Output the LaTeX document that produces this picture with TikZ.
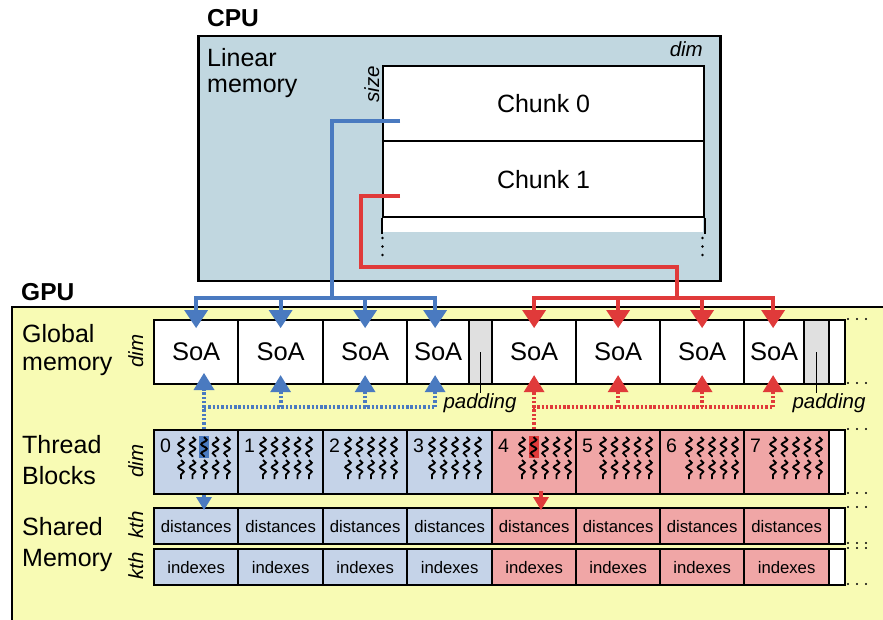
\documentclass[tikz,border=0pt]{standalone}
\usepackage{fontspec}
\setmainfont{Liberation Sans}
\usetikzlibrary{arrows.meta,decorations.pathmorphing}
\definecolor{cpufill}{RGB}{193,215,224}
\definecolor{gpufill}{RGB}{248,251,180}
\definecolor{bfill}{RGB}{197,211,232}
\definecolor{rfill}{RGB}{240,166,166}
\definecolor{padfill}{RGB}{224,224,224}
\definecolor{bline}{RGB}{74,122,192}
\definecolor{rline}{RGB}{224,58,58}
\begin{document}
\begin{tikzpicture}[x=1pt,y=-1pt,
  bigtxt/.style={font=\fontsize{25}{30}\selectfont, inner sep=0pt},
  lbl/.style={bigtxt, anchor=base west},
  boldlbl/.style={font=\bfseries\fontsize{24.5}{28}\selectfont, inner sep=0pt, anchor=base west},
  ital/.style={font=\itshape\fontsize{20.5}{24}\selectfont, inner sep=0pt},
  rowlbl/.style={ital, rotate=90, anchor=base},
  cellbox/.style={draw, line width=2.2pt, inner sep=0pt, anchor=north west},
  gcell/.style={cellbox, fill=white, minimum height=64pt, font=\fontsize{25.5}{30}\selectfont},
  tcell/.style={cellbox, minimum height=64pt},
  scell/.style={cellbox, minimum height=36pt, font=\fontsize{16.7}{20}\selectfont},
  numtxt/.style={font=\fontsize{19.5}{22}\selectfont, inner sep=0pt, anchor=base west},
  bwire/.style={draw=bline, line width=4pt},
  rwire/.style={draw=rline, line width=4pt},
  bigtip/.style={-{Triangle[width=24pt,length=18pt,line width=0pt]}},
  midtip/.style={-{Triangle[width=21pt,length=17pt,line width=0pt]}},
  smalltip/.style={-{Triangle[width=16pt,length=13pt,line width=0pt]}},
  dotwire/.style={line width=4pt, dash pattern=on 2.4pt off 1.9pt},
  squig/.style={line width=1.9pt, decorate, decoration={snake, amplitude=2.8pt, segment length=9pt}},
  lead/.style={line width=1.5pt},
  hlbox/.style={inner sep=0pt, minimum width=10pt, minimum height=22pt},
]
\useasboundingbox (0,0) rectangle (883,620);
% GPU area
\fill[gpufill] (12,307) rectangle (883,620);
\draw[line width=2pt] (883,307) -- (12,307) -- (12,620);
\node[boldlbl] (gpulbl) at (21,301) {GPU};
% CPU
\node[boldlbl] (cpulbl) at (207,27) {CPU};
\node[draw, line width=2.5pt, fill=cpufill, anchor=north west, minimum width=522pt, minimum height=245pt, inner sep=0pt] (cpu) at (197,35) {};
\node[lbl] (lin1) at (207,67) {Linear};
\node[lbl] (lin2) at (207,93) {memory};
\node[ital, anchor=base east] (cdim) at (703,57) {dim};
\node[ital, rotate=90, anchor=base east] (csize) at (379,66) {size};
\fill[white] (382,65) rectangle (703,232);
\node[cellbox, minimum width=321pt, minimum height=75pt, bigtxt] (chunk0) at (382,65) {Chunk 0};
\node[cellbox, minimum width=321pt, minimum height=76pt, bigtxt] (chunk1) at (382,140) {Chunk 1};
\draw[line width=2.2pt] (chunk1.south west) -- ++(0,16);
\draw[line width=2.2pt] (chunk1.south east) -- ++(0,16);
\foreach \yy in {238,246.5,255}{
  \fill (382.5,\yy) circle (1.3pt);
  \fill (702.5,\yy) circle (1.3pt);
}
% GPU labels
\node[lbl] (gm1) at (22,342) {Global};
\node[lbl] (gm2) at (22,370.5) {memory};
\node[lbl] (tb1l) at (22,453) {Thread};
\node[lbl] (tb2l) at (22,484) {Blocks};
\node[lbl] (sm1) at (22,535) {Shared};
\node[lbl] (sm2) at (22,566.5) {Memory};
\node[rowlbl] (gdim) at (143,351) {dim};
\node[rowlbl] (tdim) at (143,461) {dim};
\node[rowlbl] (dkth) at (143,525) {kth};
\node[rowlbl] (ikth) at (143,566) {kth};
% Global memory row
\node[gcell, minimum width=84pt] (soa1) at (153,319) {SoA};
\node[gcell, minimum width=85pt] (soa2) at (237,319) {SoA};
\node[gcell, minimum width=84pt] (soa3) at (322,319) {SoA};
\node[gcell, minimum width=62pt] (soa4) at (406,319) {SoA};
\node[gcell, fill=padfill, minimum width=23pt] (pad1) at (468,319) {};
\node[gcell, minimum width=84pt] (soa5) at (491,319) {SoA};
\node[gcell, minimum width=84pt] (soa6) at (575,319) {SoA};
\node[gcell, minimum width=84pt] (soa7) at (659,319) {SoA};
\node[gcell, minimum width=60pt] (soa8) at (743,319) {SoA};
\node[gcell, fill=padfill, minimum width=25pt] (pad2) at (803,319) {};
\node[gcell, minimum width=16pt] (gend) at (828,319) {};
\node[ital, anchor=base] (padlbl1) at (480,408) {padding};
\node[ital, anchor=base] (padlbl2) at (829,408) {padding};
\draw[lead] (pad1.center) -- (pad1.center |- padlbl1.north);
\draw[lead] (pad2.center) -- (pad2.center |- padlbl2.north);
% Thread blocks and shared memory
\foreach \i/\x/\w/\c in {0/153/84/bfill, 1/237/85/bfill, 2/322/84/bfill, 3/406/85/bfill, 4/491/84/rfill, 5/575/84/rfill, 6/659/84/rfill, 7/743/85/rfill}{
  \node[tcell, fill=\c, minimum width=\w pt] (tb\i) at (\x,429) {};
  \node[scell, fill=\c, minimum width=\w pt] (d\i) at (\x,507) {distances};
  \node[scell, fill=\c, minimum width=\w pt] (i\i) at (\x,548) {indexes};
}
\node[tcell, fill=white, minimum width=16pt] (tend) at (828,429) {};
\node[scell, fill=white, minimum width=16pt] (dend) at (828,507) {};
\node[scell, fill=white, minimum width=16pt] (iend) at (828,548) {};
\node[hlbox, fill=bline] (hl0) at (204,447) {};
\node[hlbox, fill=rline] (hl4) at (533.5,447) {};
\foreach \i/\x/\s in {0/153/181, 1/237/263, 2/322/348, 3/406/432, 4/491/522, 5/575/603, 6/659/689, 7/743/773}{
  \node[numtxt] (n\i) at (\x+7,452) {\i};
  \foreach \k in {0,...,4}{
    \draw[squig] (\s+11.5*\k,437) -- ++(0,20);
    \draw[squig] (\s+11.5*\k,460) -- ++(0,19);
  }
}
% dots on the right
\foreach \yy in {319,383,429,493,507,543,548,584}{
  \foreach \xx in {848,857,866}{
    \fill (\xx,\yy) circle (1.2pt);
  }
}
% arrow end points
\foreach \n/\dx in {1/0,2/0,3/0,4/-3,5/0,6/0,7/0,8/-1}{
  \coordinate (t\n) at ([xshift=\dx pt,yshift=-9pt]soa\n.north);
  \coordinate (u\n) at ([xshift=\dx pt,yshift=10pt]soa\n.south);
}
\coordinate (u1) at (204,373);
% blue wires
\coordinate (bsrc) at (400,121);
\coordinate (bhub) at (331.5,298);
\draw[bwire] (bsrc) -| (bhub);
\foreach \n in {1,2,3,4}{
  \draw[bwire, bigtip] (bhub) -| (t\n);
}
% red wires
\coordinate (rsrc) at (400,196.5);
\coordinate (rmid) at (361,267);
\coordinate (rhub) at (677,298);
\draw[rwire] (rsrc) -| (rmid) -| (rhub);
\foreach \n in {5,6,7,8}{
  \draw[rwire, bigtip] (rhub) -| (t\n);
}
% dotted return paths
\coordinate (bq1) at (204,407);
\coordinate (rq1) at (533,407);
\draw[bline, dotwire] (bq1) -- (u4 |- bq1);
\draw[bline, dotwire, midtip] (bq1 |- tb0.north) -- (u1);
\foreach \n in {2,3,4}{
  \draw[bline, dotwire, midtip] (u\n |- bq1) -- (u\n);
}
\draw[rline, dotwire] (rq1) -- (u8 |- rq1);
\draw[rline, dotwire, midtip] (u5 |- tb4.north) -- (u5);
\foreach \n in {6,7,8}{
  \draw[rline, dotwire, midtip] (u\n |- rq1) -- (u\n);
}
% arrows into shared memory
\coordinate (bdn) at (204,510);
\coordinate (rup) at (541,491);
\coordinate (rdn) at (541,510);
\draw[bline, line width=4pt, smalltip] (hl0 |- tb0.south) -- (bdn);
\draw[rline, line width=4pt, smalltip] (rup) -- (rdn);
\end{tikzpicture}
\end{document}
